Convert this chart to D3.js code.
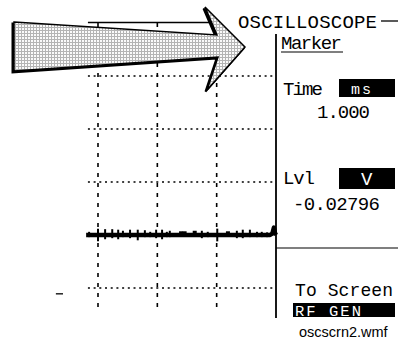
<!DOCTYPE html>
<html>
<head>
<meta charset="utf-8">
<script src="https://cdn.jsdelivr.net/npm/d3@7"></script>
<style>
  body { margin: 0; background: #fff; }
  svg { display: block; }
  .lcd { font-family: "Liberation Mono", "DejaVu Sans Mono", monospace; fill: #000; }
</style>
</head>
<body>
<div id="chart"></div>
<script>
// grid, in screen divisions
const gridTimes = [0, 1, 2];
const gridLevels = [2, 1, 0, -1, -2];

// the trace sits one division below centre
const traceTimes = [-0.2, 2.90, 2.94, 2.965, 2.985, 3.0];
const traceLevels = [-1.0, -1.0, -0.97, -0.86, -0.97, -1.0];

// glitches on the trace
const spikeTimes = [-0.15, 0.0, 0.12, 0.24, 0.34, 0.42, 0.54, 0.67, 0.79, 0.88, 0.98, 1.08, 1.16, 1.21, 1.75, 1.85, 2.01, 2.34, 2.44, 2.56, 2.68, 2.76, 2.85];
const spikeUp = [0.06, 0.12, 0.11, 0.11, 0.10, 0.08, 0.10, 0.10, 0.09, 0.06, 0.10, 0.10, 0.06, 0.08, 0.08, 0.06, 0.12, 0.08, 0.10, 0.10, 0.06, 0.06, 0.05];
const spikeDown = [0.04, 0.12, 0.08, 0.06, 0.08, 0.04, 0.06, 0.10, 0.04, 0.04, 0.06, 0.08, 0.04, 0.04, 0.06, 0.04, 0.12, 0.06, 0.06, 0.04, 0.04, 0.04, 0.04];
const blobTimes = [1.40, 1.46, 1.63, 2.19];
const blobUp = [0.07, 0.07, 0.08, 0.07];

// ground marker left of the screen
const groundLevel = -2.11;

// softkey panel texts
const titleText = "OSCILLOSCOPE";
const menuText = "Marker";
const timeLabel = "Time", timeUnit = "ms", timeValue = "1.000";
const lvlLabel = "Lvl", lvlUnit = "V", lvlValue = "-0.02796";
const screenLabel = "To Screen", screenValue = "RF GEN";
const fileName = "oscscrn2.wmf";

const W = 398, H = 344;

const svg = d3.select("#chart").append("svg")
    .attr("width", W)
    .attr("height", H);

svg.append("rect").attr("width", W).attr("height", H).attr("fill", "#fff");

let x = d3.scaleLinear().domain([0, 3]).range([98, 276]);
let y = d3.scaleLinear().domain([-2, 2]).range([288, 76]);

// stipple used for the arrow
let pat = svg.append("defs").append("pattern")
    .attr("id", "stipple")
    .attr("width", 3).attr("height", 3)
    .attr("patternUnits", "userSpaceOnUse");
pat.append("rect").attr("width", 3).attr("height", 3).attr("fill", "#b4b4b4");
pat.append("rect").attr("x", 1).attr("y", 1).attr("width", 2).attr("height", 2).attr("fill", "#fafafa");

let screenLeft = -0.17, screenTop = 3.0, screenBottom = -2.47;

// top rule with the title
svg.append("line")
    .attr("x1", x(screenLeft)).attr("x2", 215)
    .attr("y1", y(screenTop) - 0.5).attr("y2", y(screenTop) - 0.5)
    .attr("stroke", "#000").attr("stroke-width", 1.3);
svg.append("line")
    .attr("x1", 381).attr("x2", W)
    .attr("y1", 21).attr("y2", 21)
    .attr("stroke", "#000").attr("stroke-width", 1.3);
svg.append("text").attr("class", "lcd")
    .attr("x", 238).attr("y", 28)
    .attr("font-size", 19)
    .attr("textLength", 139).attr("lengthAdjust", "spacing")
    .text(titleText);

// dashed grid
let grid = svg.append("g");
grid.selectAll(".vgrid")
    .data(gridTimes)
    .enter().append("line")
    .attr("class", "vgrid")
    .attr("x1", d => x(d)).attr("x2", d => x(d))
    .attr("y1", y(screenTop)).attr("y2", y(screenBottom))
    .attr("stroke", "#000").attr("stroke-width", 1.6)
    .attr("stroke-dasharray", "4,6");
grid.selectAll(".hgrid")
    .data(gridLevels)
    .enter().append("line")
    .attr("class", "hgrid")
    .attr("x1", x(screenLeft)).attr("x2", x(3))
    .attr("y1", d => y(d)).attr("y2", d => y(d))
    .attr("stroke", "#000").attr("stroke-width", 1.5)
    .attr("stroke-dasharray", "2,3.7");

// ground marker
svg.append("line")
    .attr("x1", x(-0.71)).attr("x2", x(-0.59))
    .attr("y1", y(groundLevel)).attr("y2", y(groundLevel))
    .attr("stroke", "#000").attr("stroke-width", 1.3);

// trace
let traceData = traceTimes.map((t, i) => ({ t: t, v: traceLevels[i] }));
let line = d3.line().x(d => x(d.t)).y(d => y(d.v));
svg.append("path")
    .datum(traceData)
    .attr("d", line)
    .attr("fill", "none")
    .attr("stroke", "#000")
    .attr("stroke-width", 4.5)
    .attr("stroke-linejoin", "round");

svg.selectAll(".spike")
    .data(spikeTimes)
    .enter().append("line")
    .attr("class", "spike")
    .attr("x1", d => x(d)).attr("x2", d => x(d))
    .attr("y1", (d, i) => y(-1 + spikeUp[i]))
    .attr("y2", (d, i) => y(-1 - spikeDown[i]))
    .attr("stroke", "#000").attr("stroke-width", 2);

svg.selectAll(".blob")
    .data(blobTimes)
    .enter().append("rect")
    .attr("class", "blob")
    .attr("x", d => x(d) - 2)
    .attr("width", 4)
    .attr("y", (d, i) => y(-1 + blobUp[i]))
    .attr("height", (d, i) => y(-1) - y(-1 + blobUp[i]) + 2)
    .attr("fill", "#000");

// right border of the screen and panel separator
svg.append("line")
    .attr("x1", x(3)).attr("x2", x(3))
    .attr("y1", 34).attr("y2", 318)
    .attr("stroke", "#000").attr("stroke-width", 1.8);
svg.append("line")
    .attr("x1", x(3)).attr("x2", W)
    .attr("y1", 248).attr("y2", 248)
    .attr("stroke", "#000").attr("stroke-width", 1.2);

// softkey panel
let panel = svg.append("g");

function lcdText(str, px, py, len, size, color) {
    return panel.append("text").attr("class", "lcd")
        .attr("x", px).attr("y", py)
        .attr("font-size", size || 19)
        .attr("textLength", len).attr("lengthAdjust", "spacing")
        .style("fill", color || "#000")
        .text(str);
}

lcdText(menuText, 281, 49, 61);
panel.append("line")
    .attr("x1", 281).attr("x2", 343)
    .attr("y1", 52).attr("y2", 52)
    .attr("stroke", "#000").attr("stroke-width", 1.2);

lcdText(timeLabel, 283, 95, 40);
panel.append("rect").attr("x", 339).attr("y", 79).attr("width", 56).attr("height", 18).attr("fill", "#000");
lcdText(timeUnit, 351, 94, 20, 15, "#fff");
lcdText(timeValue, 317, 118, 53);

lcdText(lvlLabel, 283, 184, 32);
panel.append("rect").attr("x", 339).attr("y", 168).attr("width", 56).attr("height", 21).attr("fill", "#000");
lcdText(lvlUnit, 361, 185, 10, 19, "#fff");
lcdText(lvlValue, 293, 210, 87);

lcdText(screenLabel, 295, 296, 98, 18);
panel.append("rect").attr("x", 293).attr("y", 303).attr("width", 102).attr("height", 14).attr("fill", "#000");
lcdText(screenValue, 295, 316, 66, 15.5, "#fff");

// arrow pointing at the title, drawn over the grid
let arrowPts = [[14, 22], [217, 35], [205, 7], [245, 47], [207, 90], [218, 57], [14, 71]];
let arrowPath = "M" + arrowPts.map(p => p.join(",")).join("L") + "Z";
svg.append("path")
    .attr("d", arrowPath)
    .attr("transform", "translate(-1.5,1.5)")
    .attr("fill", "#000")
    .attr("stroke", "#000")
    .attr("stroke-width", 2)
    .attr("stroke-linejoin", "miter");
svg.append("path")
    .attr("d", arrowPath)
    .attr("fill", "url(#stipple)")
    .attr("stroke", "#000")
    .attr("stroke-width", 1.5)
    .attr("stroke-linejoin", "miter");

// file caption
svg.append("text")
    .attr("x", 299).attr("y", 337)
    .attr("font-family", "'Liberation Sans', Arial, sans-serif")
    .attr("font-size", 14.5)
    .attr("fill", "#000")
    .text(fileName);
</script>
</body>
</html>
